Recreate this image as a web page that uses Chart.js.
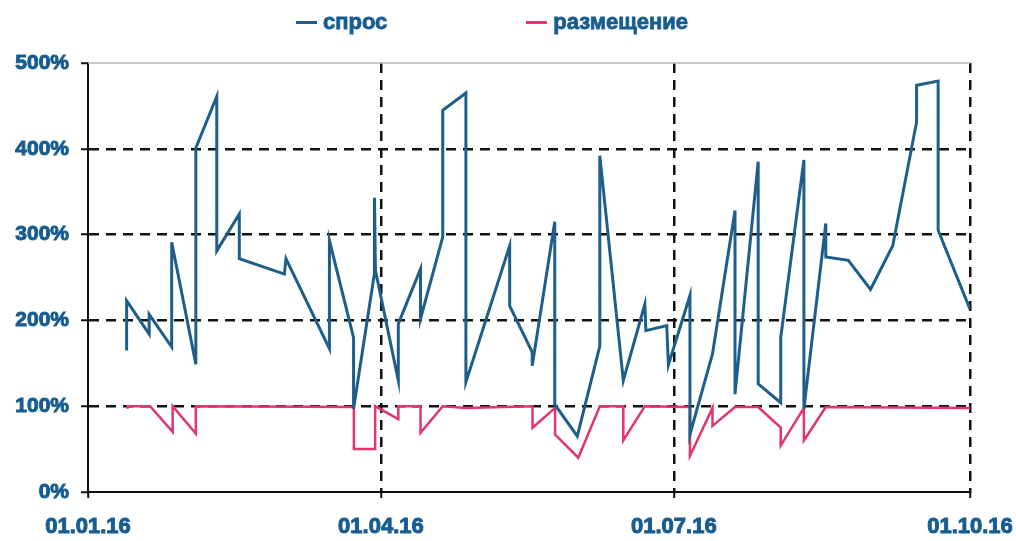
<!DOCTYPE html>
<html>
<head>
<meta charset="utf-8">
<script src="https://cdn.jsdelivr.net/npm/chart.js@4.4.0/dist/chart.umd.min.js"></script>
<style>
    body { margin: 0; background: #fff; }
    #wrap { position: relative; width: 1016px; height: 541px; }
    #legend { position: absolute; top: 7px; left: 296px; display: flex; gap: 139px; height: 30px; }
    .item { display: flex; align-items: center; font: bold 22px "Liberation Sans", Arial, sans-serif; color: #175d91; -webkit-text-stroke: 0.8px #175d91; }
    .item span.mark { display: inline-block; width: 21px; height: 3px; margin-right: 6px; }
</style>
</head>
<body>
<div id="wrap">
    <canvas id="chart"></canvas>
    <div id="legend"></div>
</div>
<script>
// days since 01.01.16
const tickDays = [0, 91, 182, 274];
const tickLabels = ["01.01.16", "01.04.16", "01.07.16", "01.10.16"];

const demandDays = [
    12, 12, 19, 19, 26, 26, 33.5, 33.5, 40, 40, 47, 47, 61, 61.5, 75, 75,
    82.5, 82.5, 89, 89, 89.3, 96.4, 96.4, 103.3, 103.3, 110.2, 110.2, 117.4, 117.4,
    131, 131, 138, 138, 145, 145, 152, 159, 159, 166.3, 173, 173.3, 179.8, 180.3,
    187, 187, 194, 201, 201, 208.2, 208.2, 215.2, 215.2, 222.4, 222.4, 229.2, 229.2,
    236.2, 243.1, 250, 257.4, 257.4, 264.1, 264.1, 274
];
const demandValues = [
    165, 223, 184, 207, 169, 291, 149, 401, 461, 281, 324, 272, 254, 272, 167, 293,
    180, 97, 255, 343, 258, 130, 196, 260, 202, 297, 445, 465, 128,
    287, 217, 163, 147, 315, 102, 65, 170, 392, 130, 219, 188, 194, 148,
    229, 67, 161, 328, 114, 385, 126, 104, 180, 387, 97, 313, 274,
    270, 236, 287, 431, 474, 479, 305, 213
];

const placementDays = [
    12.3, 12.3, 19.3, 26.3, 26.3, 33.5, 33.5, 82.6, 82.6, 89.2, 89.2, 96.4, 96.4,
    103.3, 103.3, 110.2, 117.4, 138.1, 138.1, 145.1, 145.1, 152.3, 159, 166.3, 166.3,
    173, 187, 187, 194, 194, 201, 208.2, 215.2, 215.2, 222.4, 222.4, 229.2, 274
];
const placementValues = [
    97, 100, 100, 70, 100, 68, 100, 99, 50, 50, 100, 85, 100,
    100, 69, 100, 98, 100, 75, 98, 67, 40, 100, 100, 60,
    100, 99, 42, 98, 77, 99, 99, 75, 54, 98, 60, 99, 98
];

const seriesNames = ["спрос", "размещение"];
const seriesColors = ["#1d5f8a", "#e2356b"];
const textColor = "#175d91";

function toPoints(xs, ys) {
    return xs.map((x, i) => ({ x: x, y: ys[i] }));
}

const topFrame = {
    id: "topFrame",
    beforeDatasetsDraw(chart) {
        const { ctx, chartArea } = chart;
        ctx.save();
        ctx.strokeStyle = "#b8b8b8";
        ctx.lineWidth = 1.5;
        ctx.beginPath();
        ctx.moveTo(chartArea.left, chartArea.top);
        ctx.lineTo(chartArea.right, chartArea.top);
        ctx.stroke();
        ctx.restore();
    },
};

const data = {
    datasets: [
        {
            label: seriesNames[0],
            data: toPoints(demandDays, demandValues),
            borderColor: seriesColors[0],
            borderWidth: 3,
            pointRadius: 0,
            tension: 0,
        },
        {
            label: seriesNames[1],
            data: toPoints(placementDays, placementValues),
            borderColor: seriesColors[1],
            borderWidth: 2.5,
            pointRadius: 0,
            tension: 0,
        },
    ],
};

const config = {
    type: "line",
    data: data,
    plugins: [topFrame],
    options: {
        responsive: true,
        maintainAspectRatio: false,
        animation: false,
        layout: {
            padding: { top: 63, right: 46, left: 0, bottom: 0 },
        },
        plugins: {
            legend: { display: false },
            tooltip: { enabled: false },
        },
        scales: {
            x: {
                type: "linear",
                min: 0,
                max: 274,
                afterBuildTicks: (scale) => {
                    scale.ticks = tickDays.map((v) => ({ value: v }));
                },
                afterFit: (scale) => {
                    scale.height = 49;
                    scale.paddingLeft = 0;
                    scale.paddingRight = 46;
                },
                ticks: {
                    autoSkip: false,
                    maxRotation: 0,
                    padding: 16,
                    color: textColor,
                    textStrokeColor: textColor,
                    textStrokeWidth: 1,
                    font: { family: "Liberation Sans", size: 22, weight: "bold" },
                    callback: (value, index) => tickLabels[index],
                },
                grid: {
                    color: (ctx) => (ctx.tick && ctx.tick.value === 0 ? "transparent" : "#111"),
                    lineWidth: 2.5,
                    tickLength: 6,
                    tickColor: "#111",
                    tickWidth: 2,
                },
                border: { display: true, color: "#111", width: 2, dash: [10, 7] },
            },
            y: {
                min: 0,
                max: 500,
                afterFit: (scale) => {
                    scale.width = 88;
                },
                ticks: {
                    stepSize: 100,
                    padding: 12,
                    color: textColor,
                    textStrokeColor: textColor,
                    textStrokeWidth: 1,
                    font: { family: "Liberation Sans", size: 21, weight: "bold" },
                    callback: (value) => value + "%",
                },
                grid: {
                    color: (ctx) =>
                        ctx.tick && (ctx.tick.value === 0 || ctx.tick.value === 500) ? "transparent" : "#111",
                    lineWidth: 2.5,
                    tickLength: 7,
                    tickColor: "#111",
                    tickWidth: 2,
                },
                border: { display: true, color: "#111", width: 2, dash: [10, 7] },
            },
        },
    },
};

new Chart(document.getElementById("chart"), config);

// legend above the plot
const legend = document.getElementById("legend");
for (let i = 0; i < seriesNames.length; i++) {
    legend.insertAdjacentHTML(
        "beforeend",
        `<div class="item"><span class="mark" style="background:${seriesColors[i]}"></span>${seriesNames[i]}</div>`
    );
}
</script>
</body>
</html>
